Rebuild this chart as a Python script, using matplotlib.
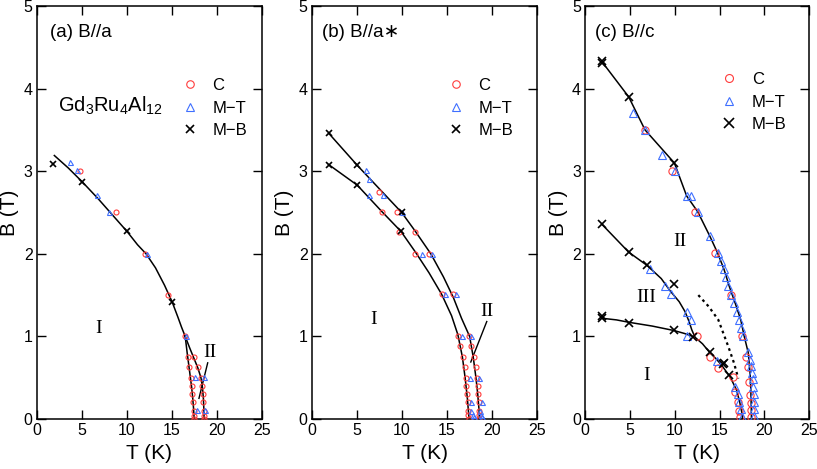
import matplotlib
matplotlib.use("Agg")
import matplotlib.pyplot as plt

plt.rcParams['font.family'] = ['Liberation Sans', 'DejaVu Sans']
plt.rcParams['mathtext.fontset'] = 'custom'
plt.rcParams['mathtext.rm'] = 'Liberation Sans'

RED = '#ff3b3b'
BLUE = '#3f6fff'

# ---------------- Panel (a) B//a ----------------
a_C_T = [4.85, 8.8, 12.0, 14.6, 16.5, 16.85, 17.5, 16.96, 17.96, 17.1, 18.3, 17.2, 18.4,
         17.3, 18.5, 17.4, 18.5, 17.45, 18.6, 17.45, 18.6, 17.5, 18.6]
a_C_B = [3.0, 2.5, 2.0, 1.5, 1.0, 0.75, 0.75, 0.63, 0.63, 0.5, 0.5, 0.4, 0.4,
         0.3, 0.3, 0.2, 0.2, 0.1, 0.1, 0.04, 0.04, 0.0, 0.0]
a_MT_T = [3.74, 4.44, 6.74, 8.07, 12.2, 16.6, 17.6, 18.55, 17.8, 18.7]
a_MT_B = [3.11, 3.01, 2.71, 2.51, 2.0, 1.0, 0.51, 0.51, 0.11, 0.11]
a_MB_T = [1.85, 5.07, 10.04, 15.04]
a_MB_B = [3.09, 2.87, 2.27, 1.42]

a_line_T = [1.96, 3.5, 5.07, 6.8, 8.5, 10.04, 11.2, 12.15, 13.2, 14.2, 15.04, 15.7, 16.1, 16.5]
a_line_B = [3.19, 3.04, 2.87, 2.67, 2.46, 2.27, 2.11, 2.0, 1.83, 1.62, 1.42, 1.23, 1.11, 1.0]
a_left_T = [16.5, 16.72, 16.9, 17.08, 17.22, 17.33, 17.42, 17.47, 17.5]
a_left_B = [1.0, 0.8, 0.65, 0.5, 0.38, 0.26, 0.14, 0.05, 0.0]
a_right_T = [16.5, 17.0, 17.45, 17.9, 18.25, 18.42, 18.52, 18.58, 18.6]
a_right_B = [1.0, 0.86, 0.74, 0.62, 0.5, 0.38, 0.25, 0.1, 0.0]
a_lead_T = [19.0, 18.03]
a_lead_B = [0.68, 0.25]

# ---------------- Panel (b) B//a* ----------------
b_C_T = [7.46, 7.76, 9.42, 9.68, 11.45, 11.45, 13.04, 14.4, 15.7, 16.17, 17.43,
         16.4, 17.7, 16.76, 18.02, 16.95, 18.17, 17.06, 18.32, 17.13, 18.39,
         17.2, 18.46, 17.28, 18.5, 17.3, 18.54, 17.35, 18.57, 17.43, 18.57]
b_C_B = [2.75, 2.51, 2.51, 2.26, 2.26, 2.0, 2.0, 1.51, 1.51, 1.0, 1.0,
         0.88, 0.88, 0.75, 0.75, 0.63, 0.63, 0.5, 0.5, 0.4, 0.4,
         0.3, 0.3, 0.2, 0.2, 0.1, 0.1, 0.05, 0.05, 0.0, 0.0]
b_MT_T = [5.98, 6.35, 6.35, 7.94, 10.0, 12.19, 13.37, 14.77, 15.95, 16.7, 17.7,
          17.54, 18.57, 17.7, 18.9, 17.7, 17.9, 18.0, 18.7, 18.8, 18.9]
b_MT_B = [3.01, 2.91, 2.71, 2.71, 2.51, 2.0, 2.0, 1.51, 1.51, 1.01, 1.01,
          0.5, 0.5, 0.2, 0.2, 0.1, 0.05, 0.02, 0.1, 0.05, 0.02]
b_MB_T = [1.88, 5.06, 9.97, 1.88, 5.06, 9.9]
b_MB_B = [3.46, 3.07, 2.5, 3.08, 2.83, 2.27]

b_up_T = [1.88, 5.06, 7.9, 9.97, 11.5, 13.2, 14.6, 15.7, 16.6, 17.5, 17.9, 18.2, 18.4, 18.55, 18.58]
b_up_B = [3.46, 3.07, 2.74, 2.5, 2.27, 2.0, 1.72, 1.47, 1.22, 1.0, 0.75, 0.5, 0.3, 0.1, 0.0]
b_lo_T = [1.88, 5.06, 7.7, 9.9, 11.5, 13.0, 14.4, 15.5, 16.2, 16.7, 17.0, 17.25, 17.4, 17.44]
b_lo_B = [3.08, 2.83, 2.52, 2.27, 2.02, 1.77, 1.51, 1.25, 1.02, 0.75, 0.5, 0.25, 0.05, 0.0]
b_lead_T = [19.4, 17.63]
b_lead_B = [1.18, 0.69]

# ---------------- Panel (c) B//c ----------------
c_C_T = [6.69, 9.66, 12.26, 14.49, 16.27, 17.46, 17.9, 18.2, 18.3, 18.4, 18.45, 18.45, 18.5,
         12.44, 13.93, 14.78, 16.46, 16.72, 17.1, 17.2, 17.3]
c_C_B = [3.5, 3.0, 2.51, 2.01, 1.5, 1.0, 0.75, 0.63, 0.45, 0.29, 0.19, 0.11, 0.02,
         1.0, 0.75, 0.62, 0.51, 0.33, 0.2, 0.1, 0.02]
c_MT_T = [5.39, 6.69, 8.54, 10.03, 11.33, 11.78, 12.56, 13.93, 14.78, 15.16, 15.5, 15.7,
          15.97, 16.3, 16.6, 16.9, 17.16, 17.38, 17.64,
          18.2, 18.4, 18.5, 18.6, 18.7, 18.7, 18.8, 18.8, 18.85, 18.85,
          7.24, 8.95, 9.58, 11.33, 11.78, 11.33,
          14.67, 16.72, 17.1, 17.2, 17.4, 17.5]
c_MT_B = [3.71, 3.5, 3.2, 3.0, 2.7, 2.7, 2.51, 2.21, 2.01, 1.91, 1.81, 1.72,
          1.61, 1.5, 1.4, 1.3, 1.2, 1.1, 1.0,
          0.81, 0.72, 0.64, 0.56, 0.48, 0.39, 0.3, 0.2, 0.12, 0.04,
          1.81, 1.61, 1.51, 1.3, 1.2, 1.0,
          0.7, 0.39, 0.3, 0.2, 0.12, 0.03]
c_MB_T = [1.86, 1.86, 4.87, 9.96, 1.86, 4.87, 6.91, 9.96, 1.86, 1.86, 4.94, 9.96, 12.07,
          13.93, 15.34, 15.5, 16.05]
c_MB_B = [4.31, 4.33, 3.9, 3.1, 2.36, 2.02, 1.86, 1.63, 1.22, 1.25, 1.16, 1.08, 0.99,
          0.81, 0.67, 0.68, 0.53]

c_up_T = [1.86, 4.87, 6.69, 9.96, 11.33, 12.56, 13.93, 14.78, 15.5, 16.1, 16.75, 17.36,
          17.75, 18.2, 18.4, 18.47, 18.53, 18.55]
c_up_B = [4.33, 3.9, 3.5, 3.1, 2.7, 2.51, 2.21, 2.01, 1.81, 1.6, 1.4, 1.2,
          1.0, 0.8, 0.55, 0.39, 0.15, 0.0]
c_mid_T = [1.86, 4.87, 6.91, 8.5, 9.5, 10.5, 11.15, 11.6, 11.9, 12.26]
c_mid_B = [2.36, 2.02, 1.86, 1.7, 1.55, 1.42, 1.30, 1.18, 1.08, 0.99]
c_lo_T = [1.86, 3.5, 4.94, 7.5, 9.96, 11.1, 12.26, 13.1, 13.94, 14.6, 15.24, 16.17, 16.9,
          17.25, 17.5, 17.55]
c_lo_B = [1.22, 1.2, 1.17, 1.125, 1.07, 1.035, 0.99, 0.91, 0.80, 0.73, 0.65, 0.51, 0.35,
          0.2, 0.07, 0.0]
c_dot_T = [12.63, 13.8, 14.86, 15.98, 16.6, 17.09]
c_dot_B = [1.50, 1.36, 1.2, 0.875, 0.68, 0.49]

fig = plt.figure(figsize=(8.17, 4.69), dpi=100)
W, H = 817.0, 469.0
ax_a = fig.add_axes([36.7 / W, 50 / H, 225 / W, 413 / H])
ax_b = fig.add_axes([311.7 / W, 50 / H, 225.6 / W, 413 / H])
ax_c = fig.add_axes([585 / W, 50 / H, 224.3 / W, 413 / H])

serif = ['Liberation Serif', 'DejaVu Serif']


def style(ax):
    ax.set_xlim(0, 25)
    ax.set_ylim(0, 5)
    ax.set_xticks([0, 5, 10, 15, 20, 25])
    ax.set_yticks([0, 1, 2, 3, 4, 5])
    ax.tick_params(direction='in', length=6.5, width=1.0, top=True, right=True,
                   labelsize=11.5, pad=3)
    for s in ax.spines.values():
        s.set_linewidth(1.1)
    ax.set_xlabel('T (K)', fontsize=15, labelpad=4.5)
    ax.set_ylabel('B (T)', fontsize=15, labelpad=3)


def markers(ax, CT, CB, TT, TB, XT, XB, ms, mew):
    ax.plot(CT, CB, 'o', ls='none', mfc='none', mec=RED, ms=ms, mew=mew, zorder=3, label='C')
    ax.plot(TT, TB, '^', ls='none', mfc='none', mec=BLUE, ms=ms, mew=mew, zorder=3, label='M\u2212T')
    ax.plot(XT, XB, 'x', ls='none', color='black', ms=ms + 0.7, mew=1.2, zorder=4, label='M\u2212B')


def legend(ax, x, y, scale):
    ax.legend(loc='upper left', bbox_to_anchor=(x, y), frameon=False, fontsize=12,
              markerscale=scale, handlelength=0.9, handletextpad=0.9, labelspacing=0.45,
              borderpad=0, borderaxespad=0)


LW = 1.1
ROM = 14
# (a)
style(ax_a)
ax_a.plot(a_line_T, a_line_B, 'k-', lw=LW, zorder=2)
ax_a.plot(a_left_T, a_left_B, 'k-', lw=LW, zorder=2)
ax_a.plot(a_right_T, a_right_B, 'k-', lw=LW, zorder=2)
ax_a.plot(a_lead_T, a_lead_B, 'k-', lw=1.0, zorder=2)
markers(ax_a, a_C_T, a_C_B, a_MT_T, a_MT_B, a_MB_T, a_MB_B, 3.6, 0.8)
legend(ax_a, 0.648, 0.825, 1.5)
ax_a.text(0.059, 0.935, '(a) B//a', transform=ax_a.transAxes, fontsize=13.5, va='center', ha='left')
ax_a.text(2.4, 3.79, r'Gd$_\mathregular{3}$Ru$_\mathregular{4}$Al$_\mathregular{12}$',
          fontsize=14.5, va='center', ha='left')
ax_a.text(6.9, 1.1, 'I', family=serif, fontsize=ROM, ha='center', va='center')
ax_a.text(19.2, 0.81, 'II', family=serif, fontsize=ROM, ha='center', va='center')

# (b)
style(ax_b)
ax_b.plot(b_up_T, b_up_B, 'k-', lw=LW, zorder=2)
ax_b.plot(b_lo_T, b_lo_B, 'k-', lw=LW, zorder=2)
ax_b.plot(b_lead_T, b_lead_B, 'k-', lw=1.0, zorder=2)
markers(ax_b, b_C_T, b_C_B, b_MT_T, b_MT_B, b_MB_T, b_MB_B, 3.6, 0.8)
legend(ax_b, 0.606, 0.825, 1.5)
ax_b.text(0.044, 0.935, '(b) B//a\u2217', transform=ax_b.transAxes, fontsize=13.5,
          va='center', ha='left', family=['Liberation Sans', 'DejaVu Sans'])
ax_b.text(6.83, 1.2, 'I', family=serif, fontsize=ROM, ha='center', va='center')
ax_b.text(19.4, 1.3, 'II', family=serif, fontsize=ROM, ha='center', va='center')

# (c)
style(ax_c)
ax_c.plot(c_up_T, c_up_B, 'k-', lw=LW, zorder=2)
ax_c.plot(c_mid_T, c_mid_B, 'k-', lw=LW, zorder=2)
ax_c.plot(c_lo_T, c_lo_B, 'k-', lw=LW, zorder=2)
ax_c.plot(c_dot_T, c_dot_B, 'k', ls=(0, (1.2, 1.6)), lw=1.6, zorder=2)
markers(ax_c, c_C_T, c_C_B, c_MT_T, c_MT_B, c_MB_T, c_MB_B, 5.2, 0.8)
legend(ax_c, 0.61, 0.84, 1.1)
ax_c.text(0.045, 0.935, '(c) B//c', transform=ax_c.transAxes, fontsize=13.5, va='center', ha='left')
ax_c.text(10.6, 2.15, 'II', family=serif, fontsize=ROM, ha='center', va='center')
ax_c.text(6.8, 1.47, 'III', family=serif, fontsize=ROM, ha='center', va='center')
ax_c.text(6.87, 0.53, 'I', family=serif, fontsize=ROM, ha='center', va='center')

fig.savefig('out.png', dpi=100)
